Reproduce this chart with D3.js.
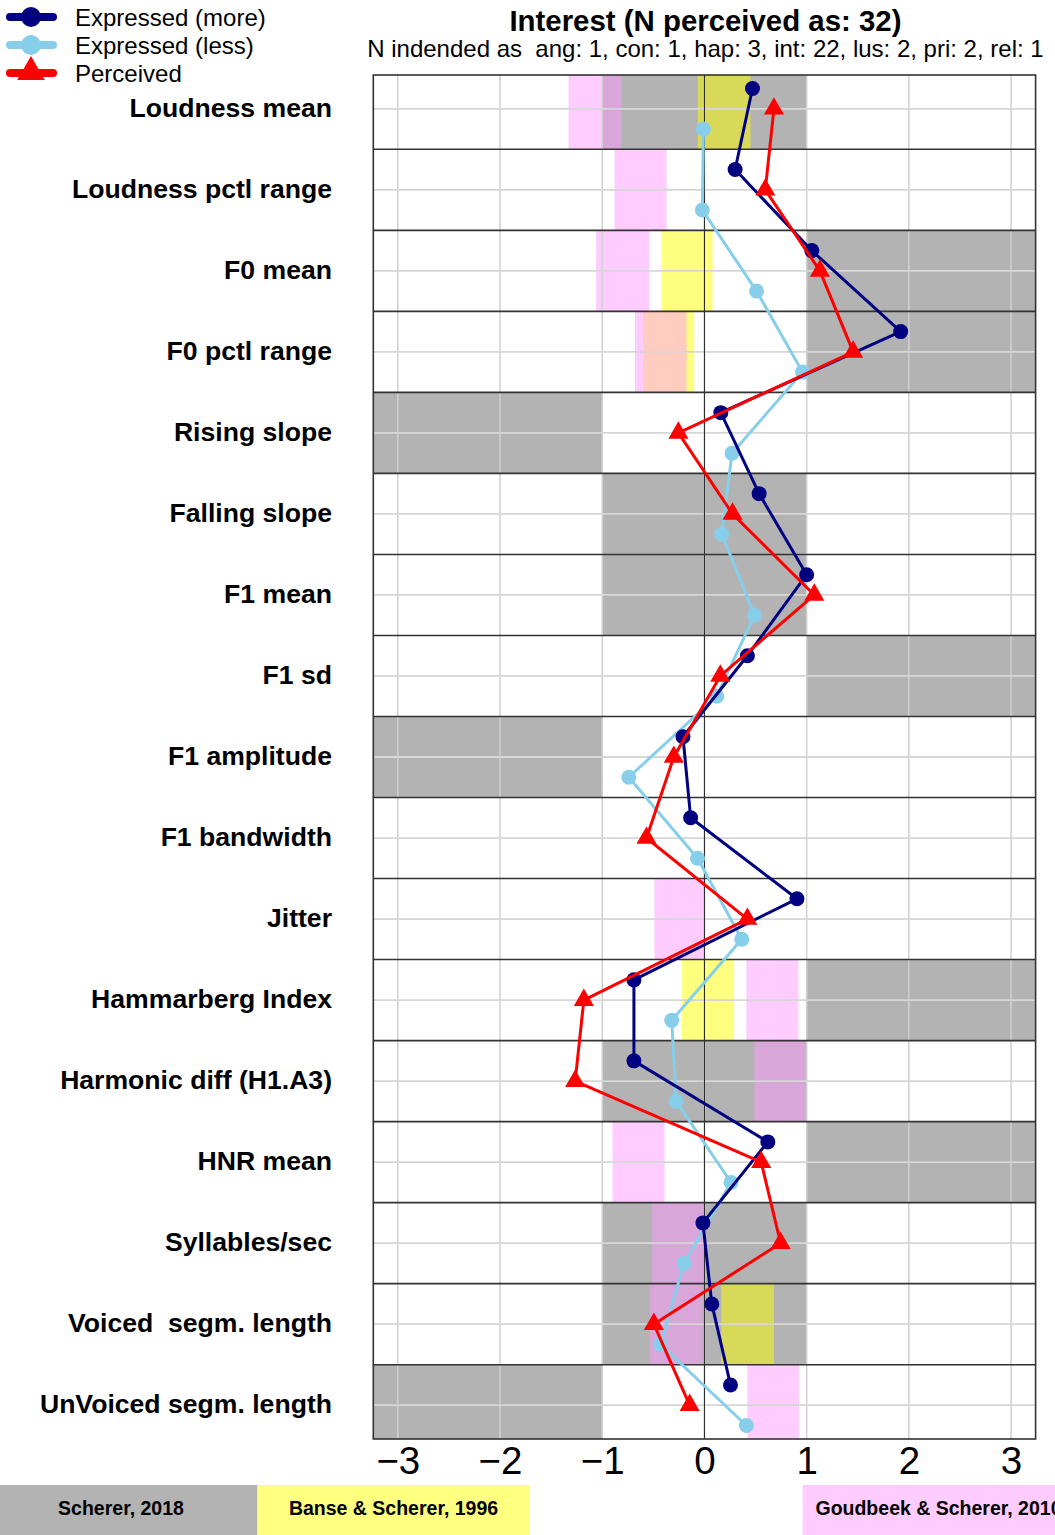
<!DOCTYPE html>
<html>
<head>
<meta charset="utf-8">
<script src="https://cdn.jsdelivr.net/npm/d3@7"></script>
<style>
  html, body { margin: 0; padding: 0; background: #fff; }
  svg { display: block; font-family: "Liberation Sans", Arial, Helvetica, sans-serif; }
</style>
</head>
<body>
<svg id="chart" width="1055" height="1535"></svg>
<script>
// Acoustic features, top to bottom
const features = [
  "Loudness mean", "Loudness pctl range", "F0 mean", "F0 pctl range",
  "Rising slope", "Falling slope", "F1 mean", "F1 sd", "F1 amplitude",
  "F1 bandwidth", "Jitter", "Hammarberg Index", "Harmonic diff (H1.A3)",
  "HNR mean", "Syllables/sec", "Voiced  segm. length", "UnVoiced segm. length"
];

// z-scored feature means per group
const expressedMore = [0.47, 0.30, 1.05, 1.92, 0.16, 0.535, 1.00, 0.42, -0.21, -0.135,
                       0.905, -0.69, -0.69, 0.62, -0.015, 0.072, 0.255];
const expressedLess = [-0.01, -0.02, 0.51, 0.96, 0.27, 0.17, 0.49, 0.12, -0.74, -0.068,
                       0.365, -0.32, -0.277, 0.26, -0.20, -0.43, 0.41];
const perceived     = [0.68, 0.595, 1.13, 1.455, -0.255, 0.275, 1.075, 0.155, -0.30, -0.567,
                       0.42, -1.18, -1.265, 0.555, 0.745, -0.495, -0.145];

// Predicted ranges from the literature: [feature index, low, high]
const scherer2018 = [
  [0, -1, 1], [2, 1, Infinity], [3, 1, Infinity], [4, -Infinity, -1], [5, -1, 1],
  [6, -1, 1], [7, 1, Infinity], [8, -Infinity, -1], [11, 1, Infinity], [12, -1, 1],
  [13, 1, Infinity], [14, -1, 1], [15, -1, 1], [16, -Infinity, -1]
];
const banse1996 = [
  [0, -0.065, 0.45], [2, -0.42, 0.08], [3, -0.60, -0.10], [11, -0.22, 0.29], [15, 0.165, 0.68]
];
const goudbeek2010 = [
  [0, -1.33, -0.81], [1, -0.88, -0.37], [2, -1.06, -0.54], [3, -0.68, -0.175],
  [10, -0.49, 0.0], [11, 0.41, 0.92], [12, 0.49, 1.0], [13, -0.90, -0.39],
  [14, -0.51, -0.01], [15, -0.535, -0.02], [16, 0.42, 0.925]
];

const xTicks = [-3, -2, -1, 0, 1, 2, 3];
const titleText = "Interest (N perceived as: 32)";
const subtitleText = "N indended as  ang: 1, con: 1, hap: 3, int: 22, lus: 2, pri: 2, rel: 1";
const sourceLabels = ["Scherer, 2018", "Banse & Scherer, 1996", "", "Goudbeek & Scherer, 2010"];

const svg = d3.select("#chart");
const plot = { left: 373.3, right: 1035.6, top: 75, bottom: 1439 };
const nRows = features.length;

const x = d3.scaleLinear().domain([-3.24, 3.24]).range([plot.left, plot.right]);
const y = d3.scaleLinear().domain([0.083, nRows - 0.083]).range([plot.top, plot.bottom]);
const clampX = v => x(Math.max(-3.24, Math.min(3.24, v)));

svg.append("defs").append("clipPath").attr("id", "plotClip")
  .append("rect")
  .attr("x", plot.left).attr("y", plot.top)
  .attr("width", plot.right - plot.left).attr("height", plot.bottom - plot.top);

const g = svg.append("g").attr("clip-path", "url(#plotClip)");

// Literature bands
function bands(data, fill) {
  g.append("g").selectAll("rect").data(data).join("rect")
    .attr("x", d => clampX(d[1]))
    .attr("width", d => clampX(d[2]) - clampX(d[1]))
    .attr("y", d => y(d[0]))
    .attr("height", d => y(d[0] + 1) - y(d[0]))
    .attr("fill", fill);
}
bands(scherer2018, "#b3b3b3");
bands(banse1996, "rgba(255,255,0,0.5)");
bands(goudbeek2010, "rgba(255,153,255,0.5)");

// Grid
g.append("g").selectAll("line").data(xTicks).join("line")
  .attr("x1", d => x(d)).attr("x2", d => x(d))
  .attr("y1", plot.top).attr("y2", plot.bottom)
  .attr("stroke", "#d0d0d0").attr("stroke-width", 1.5);
g.append("g").selectAll("line").data(d3.range(nRows)).join("line")
  .attr("x1", plot.left).attr("x2", plot.right)
  .attr("y1", d => y(d + 0.5)).attr("y2", d => y(d + 0.5))
  .attr("stroke", "#d6d6d6").attr("stroke-width", 1.8);
g.append("line")
  .attr("x1", x(0)).attr("x2", x(0))
  .attr("y1", plot.top).attr("y2", plot.bottom)
  .attr("stroke", "#222").attr("stroke-width", 1);
g.append("g").selectAll("line").data(d3.range(1, nRows)).join("line")
  .attr("x1", plot.left).attr("x2", plot.right)
  .attr("y1", d => y(d)).attr("y2", d => y(d))
  .attr("stroke", "#333").attr("stroke-width", 1.6);

// Series
const series = [
  { values: expressedLess, offset: 0.75, color: "#87ceeb", shape: "circle" },
  { values: expressedMore, offset: 0.25, color: "#000080", shape: "circle" },
  { values: perceived,     offset: 0.5,  color: "#ff0000", shape: "triangle" }
];
const line = d3.line().x(d => x(d.v)).y(d => y(d.i + d.o));
const tri = d3.symbol(d3.symbolTriangle, 175);

series.forEach(s => {
  const pts = s.values.map((v, i) => ({ v, i, o: s.offset }));
  g.append("path").datum(pts)
    .attr("d", line).attr("fill", "none")
    .attr("stroke", s.color).attr("stroke-width", 3).attr("stroke-linejoin", "round");
  if (s.shape === "circle") {
    g.append("g").selectAll("circle").data(pts).join("circle")
      .attr("cx", d => x(d.v)).attr("cy", d => y(d.i + d.o)).attr("r", 7.5)
      .attr("fill", s.color);
  } else {
    g.append("g").selectAll("path").data(pts).join("path")
      .attr("transform", d => `translate(${x(d.v)},${y(d.i + d.o)})`)
      .attr("d", tri).attr("fill", s.color);
  }
});

// Frame
svg.append("rect")
  .attr("x", plot.left).attr("y", plot.top)
  .attr("width", plot.right - plot.left).attr("height", plot.bottom - plot.top)
  .attr("fill", "none").attr("stroke", "#333").attr("stroke-width", 1.6);

// Row labels
svg.append("g").selectAll("text").data(features).join("text")
  .attr("x", 332).attr("y", (d, i) => y(i + 0.5) + 8)
  .attr("text-anchor", "end")
  .style("white-space", "pre")
  .attr("font-weight", "bold").attr("font-size", 26.6)
  .text(d => d);

// X axis
const axis = svg.append("g")
  .attr("transform", `translate(0,${plot.bottom})`)
  .call(d3.axisBottom(x).tickValues(xTicks).tickSize(0).tickPadding(8)
    .tickFormat(d => d < 0 ? "\u2212" + Math.abs(d) : String(d)));
axis.select(".domain").remove();
axis.selectAll("text")
  .attr("font-size", 38.5).attr("fill", "#000")
  .attr("font-family", "\"Liberation Sans\", Arial, Helvetica, sans-serif");

// Title
svg.append("text")
  .attr("x", (plot.left + plot.right) / 2 + 1).attr("y", 31)
  .attr("text-anchor", "middle").attr("font-weight", "bold").attr("font-size", 29.4)
  .text(titleText);
svg.append("text")
  .attr("x", (plot.left + plot.right) / 2 + 1).attr("y", 57)
  .attr("text-anchor", "middle").attr("font-size", 24)
  .style("white-space", "pre")
  .text(subtitleText);

// Series legend
const legendItems = [
  { label: "Expressed (more)", color: "#000080", shape: "circle" },
  { label: "Expressed (less)", color: "#87ceeb", shape: "circle" },
  { label: "Perceived",        color: "#ff0000", shape: "triangle" }
];
const lg = svg.append("g").selectAll("g").data(legendItems).join("g")
  .attr("transform", (d, i) => `translate(0,${17 + i * 28})`);
lg.append("line")
  .attr("x1", 10).attr("x2", 53).attr("y1", 0).attr("y2", 0)
  .attr("stroke", d => d.color).attr("stroke-width", 8).attr("stroke-linecap", "round");
lg.filter(d => d.shape === "circle").append("circle")
  .attr("cx", 31).attr("cy", 0).attr("r", 10).attr("fill", d => d.color);
lg.filter(d => d.shape === "triangle").append("path")
  .attr("transform", "translate(31,-1)")
  .attr("d", d3.symbol(d3.symbolTriangle, 330)).attr("fill", d => d.color);
lg.append("text")
  .attr("x", 75).attr("y", 8.5)
  .attr("font-size", 24)
  .text(d => d.label);

// Source legend
const srcFill = ["#b3b3b3", "#ffff80", "#ffffff", "#ffccff"];
const sg = svg.append("g").selectAll("g").data(sourceLabels).join("g")
  .attr("transform", (d, i) => `translate(${-15 + i * 272.5},1485)`);
sg.append("rect")
  .attr("width", 272.5).attr("height", 60)
  .attr("fill", (d, i) => srcFill[i]);
sg.append("text")
  .attr("x", 136).attr("y", 30)
  .attr("text-anchor", "middle").attr("font-weight", "bold").attr("font-size", 19.5)
  .text(d => d);
</script>
</body>
</html>
